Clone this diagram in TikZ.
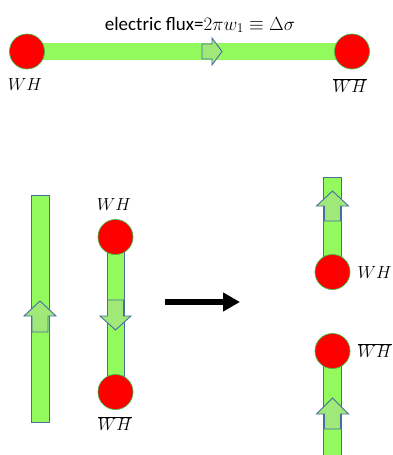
\RequirePackage{fix-cm}
\documentclass[tikz,border=0pt]{standalone}
\usepackage{fontspec}
\setmainfont{Carlito}
\usetikzlibrary{arrows.meta,calc}
\definecolor{barg}{RGB}{146,250,92}
\definecolor{arrg}{RGB}{160,232,120}
\definecolor{bordb}{RGB}{70,110,165}
\definecolor{ballg}{RGB}{70,180,70}
\tikzset{
  ball/.style={circle,fill=red,draw=ballg,line width=0.7pt,minimum size=35pt,inner sep=0pt},
  vbar/.style={fill=barg,draw=bordb,line width=0.8pt},
  hbar/.style={draw=barg,line width=17pt},
  lab/.style={inner sep=0pt,font=\fontsize{17.5}{20}\selectfont},
  pics/blockarr/.style n args={4}{code={
    \filldraw[fill=arrg,draw=bordb,line width=0.9pt,line join=miter]
      (0,-#3) -- (#1,-#3) -- (#1,-#4) -- (#1+#2,0) -- (#1,#4) -- (#1,#3) -- (0,#3) -- cycle;
  }}
}
\begin{document}
\begin{tikzpicture}[x=1pt,y=-1pt]
\useasboundingbox (0,0) rectangle (393,455);
\clip (0,0) rectangle (393,455);
% ---- top ----
\coordinate (tl) at (27,51.5);
\coordinate (tr) at (352,51.5);
\draw[hbar] (tl) -- (tr);
\pic at (202,51.5) {blockarr={10}{10}{7.5}{13.5}};
\node[ball] (L) at (tl) {};
\node[ball] (R) at (tr) {};
\node[anchor=base,inner sep=0pt,font=\fontsize{19}{22}\selectfont] (flux) at (200,30)
  {electric flux=$2\pi w_1\equiv\Delta\sigma$};
\node[lab] (wl) at (25,85) {$WH$};
\node[lab] (wr) at (350,86) {$\overline{WH}$};
% ---- bottom left bar ----
\coordinate (lb1) at (40,195);
\coordinate (lb2) at (40,422);
\draw[vbar] ($(lb1)+(-9,0)$) rectangle ($(lb2)+(9,0)$);
\pic[rotate=90] at (40,332) {blockarr={16}{15}{8}{16}};
% ---- middle bar ----
\coordinate (m1) at (115.5,237);
\coordinate (m2) at (115.5,392);
\draw[vbar] ($(m1)+(-8.5,0)$) rectangle ($(m2)+(8.5,0)$);
\pic[rotate=-90] at (115.5,300) {blockarr={16}{14}{8}{15.5}};
\node[ball] (M1) at (m1) {};
\node[ball] (M2) at (m2) {};
\node[lab] (mw1) at (114,205) {$WH$};
\node[lab] (mw2) at (115,424) {$\overline{WH}$};
% ---- black arrow ----
\coordinate (a1) at (165,302);
\coordinate (a2) at (240,302);
\draw[line width=6pt,-{Triangle[length=17pt,width=18pt]}] (a1) -- (a2);
% ---- right side ----
\coordinate (r0) at (332.5,177);
\coordinate (r1) at (332.5,272);
\coordinate (r2) at (332.5,351);
\coordinate (r3) at (332.5,470);
\draw[vbar] ($(r0)+(-9,0)$) rectangle ($(r1)+(9,0)$);
\draw[vbar] ($(r2)+(-9,0)$) rectangle ($(r3)+(9,0)$);
\pic[rotate=90] at (332.5,221) {blockarr={15}{15}{8}{16}};
\pic[rotate=90] at (332.5,429) {blockarr={15}{16}{8}{16}};
\node[ball] (R1) at (r1) {};
\node[ball] (R2) at (r2) {};
\node[lab,anchor=east] (rw1) at (392,273) {$WH$};
\node[lab,anchor=east] (rw2) at (392,351) {$\overline{WH}$};
\end{tikzpicture}
\end{document}
